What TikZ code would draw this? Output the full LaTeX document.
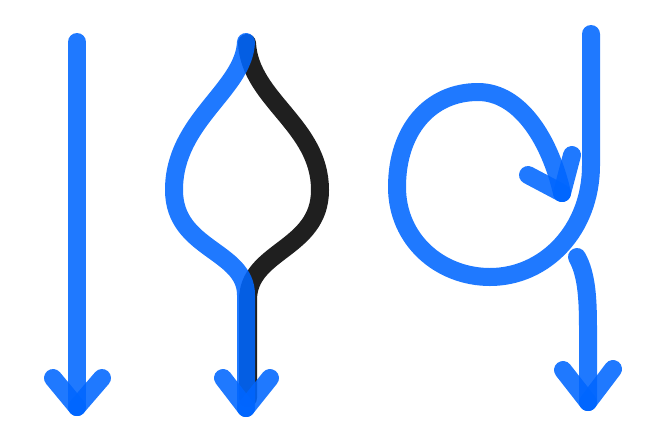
\documentclass[tikz,border=0pt]{standalone}
\definecolor{penblue}{RGB}{0,102,255}
\definecolor{penblack}{RGB}{0,0,0}
\begin{document}
\begin{tikzpicture}[x=1pt,y=-1pt,
  bluestroke/.style={draw=penblue,draw opacity=0.88,line width=18pt,line cap=round,line join=round},
  blackstroke/.style={draw=penblack,draw opacity=0.88,line width=18pt,line cap=round,line join=round}]
\useasboundingbox (0,0) rectangle (660,440);
% left arrow
\coordinate (a1) at (77,42);
\coordinate (a2) at (77,407);
\draw[bluestroke] (a1) -- (a2);
\draw[bluestroke] (a2) -- (53,378);
\draw[bluestroke] (a2) -- (102,378);
% middle
\coordinate (bt) at (246,42);
\coordinate (ct) at (247,43);
\coordinate (bb) at (246,408);
\draw[blackstroke] (ct) .. controls (250,100) and (320,125) .. (320,190)
  .. controls (320,250) and (248,250) .. (248,300) -- (248,398);
\draw[bluestroke] (bt) .. controls (244,90) and (174,120) .. (174,190)
  .. controls (174,250) and (246,250) .. (246,295) -- (bb);
\draw[bluestroke] (bb) -- (223,378);
\draw[bluestroke] (bb) -- (270,378);
% right
\coordinate (r1) at (591,34);
\coordinate (rt) at (562,193);
\draw[bluestroke] (r1) -- (591,165)
  .. controls (591,230) and (545,277) .. (490,277)
  .. controls (440,277) and (397,240) .. (397,187)
  .. controls (397,130) and (430,92) .. (478,92)
  .. controls (520,92) and (550,140) .. (rt);
\draw[bluestroke] (rt) -- (528,175);
\draw[bluestroke] (rt) -- (572,155);
\coordinate (s1) at (577,257);
\coordinate (s2) at (588,402);
\draw[bluestroke] (s1) .. controls (587,275) and (588,300) .. (588,330) -- (s2);
\draw[bluestroke] (s2) -- (563,370);
\draw[bluestroke] (s2) -- (613,369);
\end{tikzpicture}
\end{document}
